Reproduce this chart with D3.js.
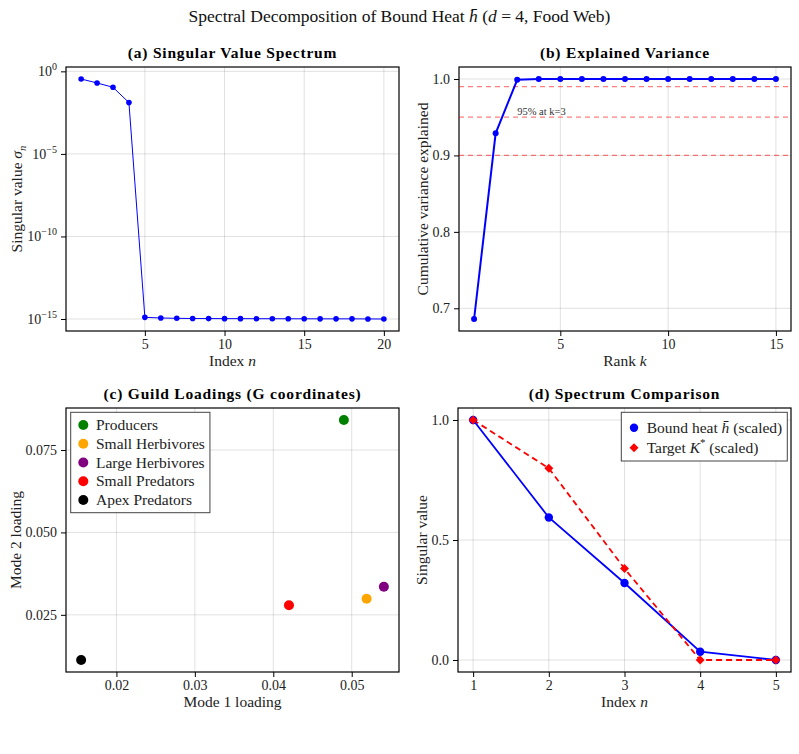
<!DOCTYPE html>
<html>
<head>
<meta charset="utf-8">
<script src="https://cdn.jsdelivr.net/npm/d3@7"></script>
<style>
    body { margin: 0; background: #fff; }
    svg { font-family: "Liberation Serif", "Times New Roman", serif; }
</style>
</head>
<body>
<script>
// Data
// (a) singular value spectrum
const svIndex = [1, 2, 3, 4, 5, 6, 7, 8, 9, 10, 11, 12, 13, 14, 15, 16, 17, 18, 19, 20];
const svValues = [0.344, 0.198, 0.108, 0.0128, 1.26e-15, 1.15e-15, 1.1e-15, 1.07e-15, 1.06e-15, 1.05e-15,
    1.05e-15, 1.04e-15, 1.04e-15, 1.03e-15, 1.03e-15, 1.02e-15, 1.02e-15, 1.02e-15, 1.01e-15, 1.0e-15];

// (b) explained variance
const varRank = [1, 2, 3, 4, 5, 6, 7, 8, 9, 10, 11, 12, 13, 14, 15];
const varCumulative = [0.686, 0.929, 0.999, 1.0, 1.0, 1.0, 1.0, 1.0, 1.0, 1.0, 1.0, 1.0, 1.0, 1.0, 1.0];
const varThresholds = [0.90, 0.95, 0.99];
const varNote = { rank: 3, value: 0.953, text: "95% at k=3" };

// (c) guild loadings
const guildNames = ["Producers", "Small Herbivores", "Large Herbivores", "Small Predators", "Apex Predators"];
const guildMode1 = [0.0490, 0.0519, 0.0541, 0.0420, 0.0155];
const guildMode2 = [0.0841, 0.0299, 0.0335, 0.0279, 0.0113];

// (d) spectrum comparison
const compIndex = [1, 2, 3, 4, 5];
const boundHeat = [1.0, 0.594, 0.321, 0.0345, 0.0];
const targetK = [1.0, 0.799, 0.381, 0.0, 0.0];

// Tick values
const ticksA = { x: [5, 10, 15, 20], y: [1e0, 1e-5, 1e-10, 1e-15] };
const ticksB = { x: [5, 10, 15], y: [0.7, 0.8, 0.9, 1.0] };
const ticksC = { x: [0.02, 0.03, 0.04, 0.05], y: [0.025, 0.050, 0.075] };
const ticksD = { x: [1, 2, 3, 4, 5], y: [0.0, 0.5, 1.0] };

// Styles
const guildColor = d3.scaleOrdinal()
    .domain(guildNames)
    .range(["#008000", "#ffa500", "#800080", "#ff0000", "#000000"]);
const BLUE = "#0000ff";
const RED = "#ff0000";
const TICK_FS = 14;
const LABEL_FS = 15.5;

const W = 799, H = 754;
const svg = d3.select("body").append("svg")
    .attr("width", W)
    .attr("height", H);

// Plot areas
const boxA = { left: 66, right: 399, top: 67, bottom: 331 };
const boxB = { left: 459, right: 791, top: 67, bottom: 331 };
const boxC = { left: 66, right: 399, top: 408, bottom: 672 };
const boxD = { left: 458, right: 791, top: 408, bottom: 672 };

// 5% padding like the original's autolimits
function padExtent(vals) {
    const [lo, hi] = d3.extent(vals);
    const d = (hi - lo) * 0.05;
    return [lo - d, hi + d];
}

// text with italic / sub / superscript pieces
function richText(sel, parts, fs) {
    let shift = 0;
    parts.forEach(p => {
        const target = p.sub ? 0.25 * fs : p.sup ? -0.42 * fs : 0;
        const ts = sel.append("tspan").text(p.t);
        if (target !== shift) ts.attr("dy", target - shift);
        shift = target;
        if (p.sub || p.sup) ts.attr("font-size", 0.7 * fs);
        if (p.it) ts.style("font-style", "italic");
    });
    return sel;
}

// powers of ten for the log axis
function powerLabels(texts) {
    texts.each(function (d) {
        const e = Math.round(Math.log10(d));
        const t = d3.select(this).text(null);
        t.append("tspan").text("10");
        t.append("tspan").attr("dy", -6).attr("font-size", 10).text(e === 0 ? "0" : "\u2212" + (-e));
    });
}

function drawFrame(box, x, y, ticks, fmtX, fmtY, title, xLabel, yLabel, decorateY) {
    const g = svg.append("g");

    // grid
    g.append("g").selectAll("line")
        .data(ticks.x)
        .join("line")
        .attr("x1", d => x(d)).attr("x2", d => x(d))
        .attr("y1", box.top).attr("y2", box.bottom)
        .attr("stroke", "#000").attr("stroke-opacity", 0.12);
    g.append("g").selectAll("line")
        .data(ticks.y)
        .join("line")
        .attr("x1", box.left).attr("x2", box.right)
        .attr("y1", d => y(d)).attr("y2", d => y(d))
        .attr("stroke", "#000").attr("stroke-opacity", 0.12);

    // axes
    const gx = g.append("g")
        .attr("transform", `translate(0,${box.bottom})`)
        .call(d3.axisBottom(x).tickValues(ticks.x).tickFormat(fmtX).tickSize(5).tickPadding(3));
    const gy = g.append("g")
        .attr("transform", `translate(${box.left},0)`)
        .call(d3.axisLeft(y).tickValues(ticks.y).tickFormat(fmtY).tickSize(5).tickPadding(4));
    [gx, gy].forEach(a => {
        a.attr("font-family", null).attr("font-size", TICK_FS);
        a.select(".domain").remove();
        a.selectAll(".tick line").attr("stroke", "#000");
        a.selectAll(".tick text").attr("fill", "#222");
    });
    if (decorateY) decorateY(gy.selectAll(".tick text"));

    // frame
    g.append("rect")
        .attr("x", box.left).attr("y", box.top)
        .attr("width", box.right - box.left).attr("height", box.bottom - box.top)
        .attr("fill", "none").attr("stroke", "#000").attr("stroke-width", 1.2);

    // title
    g.append("text")
        .attr("x", (box.left + box.right) / 2)
        .attr("y", box.top - 9)
        .attr("text-anchor", "middle")
        .attr("font-weight", "bold")
        .attr("font-size", 15.5)
        .attr("letter-spacing", 0.8)
        .text(title);

    // x label
    richText(g.append("text")
        .attr("x", (box.left + box.right) / 2)
        .attr("y", box.bottom + 35)
        .attr("text-anchor", "middle")
        .attr("font-size", LABEL_FS)
        .attr("fill", "#222"), xLabel, LABEL_FS);

    // y label, placed left of widest tick label
    let maxW = 0;
    gy.selectAll(".tick text").each(function () {
        maxW = Math.max(maxW, this.getBBox().width);
    });
    const lx = box.left - 9 - maxW - 5;
    richText(g.append("text")
        .attr("transform", `translate(${lx},${(box.top + box.bottom) / 2}) rotate(-90)`)
        .attr("text-anchor", "middle")
        .attr("font-size", LABEL_FS)
        .attr("fill", "#222"), yLabel, LABEL_FS);

    return g;
}

// Main title
richText(svg.append("text")
    .attr("x", W / 2)
    .attr("y", 22)
    .attr("text-anchor", "middle")
    .attr("font-size", 17.5)
    .attr("fill", "#111"),
    [{ t: "Spectral Decomposition of Bound Heat " }, { t: "h\u0304", it: true },
     { t: " (" }, { t: "d", it: true }, { t: " = 4, Food Web)" }], 17.5);

// (a) Singular Value Spectrum
function drawSpectrum() {
    const x = d3.scaleLinear().domain(padExtent(svIndex)).range([boxA.left, boxA.right]);
    const logExt = padExtent(svValues.map(Math.log10));
    const y = d3.scaleLog().domain(logExt.map(v => Math.pow(10, v))).range([boxA.bottom, boxA.top]);

    const g = drawFrame(boxA, x, y, ticksA, d3.format("d"), () => "",
        "(a) Singular Value Spectrum",
        [{ t: "Index " }, { t: "n", it: true }],
        [{ t: "Singular value " }, { t: "σ", it: true }, { t: "n", it: true, sub: true }],
        powerLabels);

    const line = d3.line().x((d, i) => x(svIndex[i])).y(d => y(d));
    g.append("path")
        .datum(svValues)
        .attr("d", line)
        .attr("fill", "none")
        .attr("stroke", BLUE)
        .attr("stroke-width", 1);
    g.append("g").selectAll("circle")
        .data(svValues)
        .join("circle")
        .attr("cx", (d, i) => x(svIndex[i]))
        .attr("cy", d => y(d))
        .attr("r", 2.8)
        .attr("fill", BLUE);
}

// (b) Explained Variance
function drawVariance() {
    const x = d3.scaleLinear().domain(padExtent(varRank)).range([boxB.left, boxB.right]);
    const y = d3.scaleLinear().domain(padExtent(varCumulative)).range([boxB.bottom, boxB.top]);

    const g = drawFrame(boxB, x, y, ticksB, d3.format("d"), d3.format(".1f"),
        "(b) Explained Variance",
        [{ t: "Rank " }, { t: "k", it: true }],
        [{ t: "Cumulative variance explained" }]);

    g.append("g").selectAll("line")
        .data(varThresholds)
        .join("line")
        .attr("x1", boxB.left).attr("x2", boxB.right)
        .attr("y1", d => y(d)).attr("y2", d => y(d))
        .attr("stroke", RED)
        .attr("stroke-opacity", 0.5)
        .attr("stroke-width", 1.3)
        .attr("stroke-dasharray", "5,4");

    g.append("text")
        .attr("x", x(varNote.rank))
        .attr("y", y(varNote.value))
        .attr("font-size", 10.5)
        .attr("fill", "#333")
        .text(varNote.text);

    const line = d3.line().x((d, i) => x(varRank[i])).y(d => y(d));
    g.append("path")
        .datum(varCumulative)
        .attr("d", line)
        .attr("fill", "none")
        .attr("stroke", BLUE)
        .attr("stroke-width", 2);
    g.append("g").selectAll("circle")
        .data(varCumulative)
        .join("circle")
        .attr("cx", (d, i) => x(varRank[i]))
        .attr("cy", d => y(d))
        .attr("r", 3)
        .attr("fill", BLUE);
}

// (c) Guild Loadings
function drawGuilds() {
    const x = d3.scaleLinear().domain(padExtent(guildMode1)).range([boxC.left, boxC.right]);
    const y = d3.scaleLinear().domain(padExtent(guildMode2)).range([boxC.bottom, boxC.top]);

    const g = drawFrame(boxC, x, y, ticksC, d3.format(".2f"), d3.format(".3f"),
        "(c) Guild Loadings (G coordinates)",
        [{ t: "Mode 1 loading" }],
        [{ t: "Mode 2 loading" }]);

    g.append("g").selectAll("circle")
        .data(guildNames)
        .join("circle")
        .attr("cx", (d, i) => x(guildMode1[i]))
        .attr("cy", (d, i) => y(guildMode2[i]))
        .attr("r", 5)
        .attr("fill", d => guildColor(d));

    // legend, top left
    const leg = g.append("g").attr("transform", `translate(${boxC.left + 4.7},${boxC.top + 4.3})`);
    const frame = leg.append("rect");
    const rowH = 18.75, padTop = 12.7;
    const rows = leg.selectAll("g.row")
        .data(guildNames)
        .join("g")
        .attr("class", "row")
        .attr("transform", (d, i) => `translate(0,${padTop + i * rowH})`);
    rows.append("circle").attr("cx", 12.6).attr("r", 5).attr("fill", d => guildColor(d));
    rows.append("text")
        .attr("x", 25.3)
        .attr("dy", "0.33em")
        .attr("font-size", LABEL_FS)
        .attr("fill", "#222")
        .text(d => d);
    let maxW = 0;
    rows.selectAll("text").each(function () { maxW = Math.max(maxW, this.getComputedTextLength()); });
    frame.attr("width", 25.3 + maxW + 5)
        .attr("height", padTop * 2 + (guildNames.length - 1) * rowH)
        .attr("fill", "#fff")
        .attr("stroke", "#444")
        .attr("stroke-width", 1);
}

// (d) Spectrum Comparison
function drawComparison() {
    const x = d3.scaleLinear().domain(padExtent(compIndex)).range([boxD.left, boxD.right]);
    const y = d3.scaleLinear().domain(padExtent(boundHeat.concat(targetK))).range([boxD.bottom, boxD.top]);

    const g = drawFrame(boxD, x, y, ticksD, d3.format("d"), d3.format(".1f"),
        "(d) Spectrum Comparison",
        [{ t: "Index " }, { t: "n", it: true }],
        [{ t: "Singular value" }]);

    const line = d3.line().x((d, i) => x(compIndex[i])).y(d => y(d));
    const diamond = d3.symbol(d3.symbolSquare, 40);

    g.append("path")
        .datum(boundHeat)
        .attr("d", line)
        .attr("fill", "none")
        .attr("stroke", BLUE)
        .attr("stroke-width", 1.8);
    g.append("path")
        .datum(targetK)
        .attr("d", line)
        .attr("fill", "none")
        .attr("stroke", RED)
        .attr("stroke-width", 1.8)
        .attr("stroke-dasharray", "6,4");

    g.append("g").selectAll("circle")
        .data(boundHeat)
        .join("circle")
        .attr("cx", (d, i) => x(compIndex[i]))
        .attr("cy", d => y(d))
        .attr("r", 4.2)
        .attr("fill", BLUE);
    g.append("g").selectAll("path")
        .data(targetK)
        .join("path")
        .attr("d", diamond)
        .attr("transform", (d, i) => `translate(${x(compIndex[i])},${y(d)}) rotate(45)`)
        .attr("fill", RED);

    // legend, top right
    const items = [
        { parts: [{ t: "Bound heat " }, { t: "h\u0304", it: true }, { t: " (scaled)" }], color: BLUE, shape: "circle" },
        { parts: [{ t: "Target " }, { t: "K", it: true }, { t: "*", sup: true }, { t: " (scaled)" }], color: RED, shape: "diamond" }
    ];
    const leg = g.append("g");
    const frame = leg.append("rect");
    const rowH = 20, padTop = 15.4, padBottom = 13.3;
    const rows = leg.selectAll("g.row")
        .data(items)
        .join("g")
        .attr("class", "row")
        .attr("transform", (d, i) => `translate(0,${padTop + i * rowH})`);
    rows.each(function (d) {
        const r = d3.select(this);
        if (d.shape === "circle") {
            r.append("circle").attr("cx", 12.7).attr("r", 4.2).attr("fill", d.color);
        } else {
            r.append("path").attr("d", diamond)
                .attr("transform", "translate(12.7,0) rotate(45)")
                .attr("fill", d.color);
        }
        richText(r.append("text")
            .attr("x", 25.4)
            .attr("dy", "0.33em")
            .attr("font-size", LABEL_FS)
            .attr("fill", "#222"), d.parts, LABEL_FS);
    });
    let maxW = 0;
    rows.selectAll("text").each(function () { maxW = Math.max(maxW, this.getComputedTextLength()); });
    const lw = 25.4 + maxW + 5;
    frame.attr("width", lw)
        .attr("height", padTop + (items.length - 1) * rowH + padBottom)
        .attr("fill", "#fff")
        .attr("stroke", "#444")
        .attr("stroke-width", 1);
    leg.attr("transform", `translate(${boxD.right - 3.7 - lw},${boxD.top + 4.3})`);
}

drawSpectrum();
drawVariance();
drawGuilds();
drawComparison();
</script>
</body>
</html>
